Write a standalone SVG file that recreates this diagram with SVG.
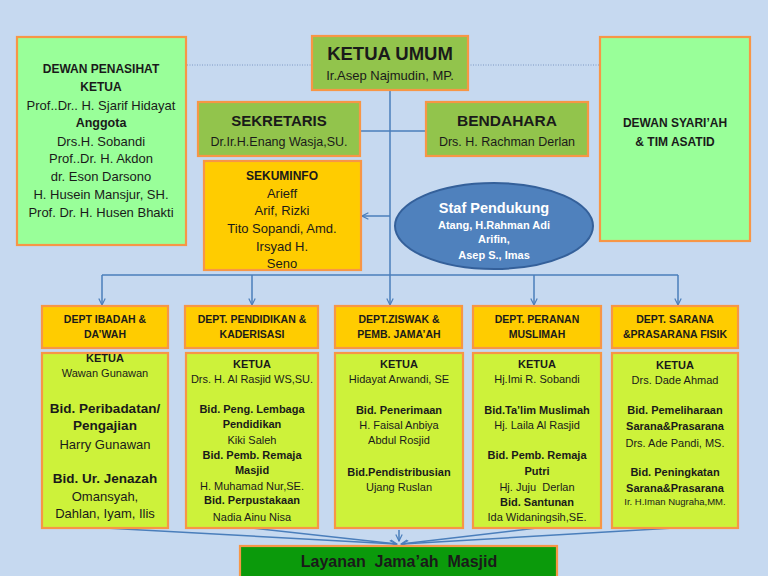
<svg xmlns="http://www.w3.org/2000/svg" width="768" height="576" viewBox="0 0 768 576">
<defs>
<style>
text{font-family:"Liberation Sans",Arial,sans-serif;fill:#1a1a1a;text-anchor:middle}
.b{font-weight:bold}
.box{stroke:#f79646;stroke-width:2.2}
.lg{fill:#99ff99}
.og{fill:#92c44c}
.gold{fill:#ffcc00}
.yg{fill:#cdf23a}
.ln{stroke:#4a7ebb;stroke-width:1.5;fill:none}
.dot{stroke:#7d98c4;stroke-width:1;stroke-dasharray:1 1.5;fill:none}
.w{fill:#ffffff}
</style>
<marker id="ah" viewBox="0 0 10 10" refX="9" refY="5" markerWidth="8" markerHeight="8" orient="auto" markerUnits="userSpaceOnUse">
<path d="M1,1 L9,5 L1,9" fill="none" stroke="#4a7ebb" stroke-width="1.5"/>
</marker>
</defs>
<rect width="768" height="576" fill="#c6d9f0"/>

<g id="connectors">
<path class="dot" d="M187,65 H312 M468,65 H600"/>
<path class="ln" d="M390,90 V275"/>
<path class="ln" d="M360,131 H426"/>
<path class="ln" d="M390,216 H362" marker-end="url(#ah)"/>
<path class="ln" d="M102,275 H678"/>
<path class="ln" d="M102,275 V305" marker-end="url(#ah)"/>
<path class="ln" d="M252,275 V305" marker-end="url(#ah)"/>
<path class="ln" d="M390,275 V305" marker-end="url(#ah)"/>
<path class="ln" d="M534,275 V305" marker-end="url(#ah)"/>
<path class="ln" d="M678,275 V305" marker-end="url(#ah)"/>
<path class="ln" d="M105,528 L396,544" marker-end="url(#ah)"/>
<path class="ln" d="M252,528 L397,544" marker-end="url(#ah)"/>
<path class="ln" d="M399,530 V541" marker-end="url(#ah)"/>
<path class="ln" d="M537,528 L401,544" marker-end="url(#ah)"/>
<path class="ln" d="M674,528 L402,544" marker-end="url(#ah)"/>
</g>

<g id="dewan-penasihat">
<rect class="box lg" x="17" y="37" width="169" height="208"/>
<text class="b" x="101" y="73" font-size="12">DEWAN PENASIHAT</text>
<text class="b" x="101" y="91" font-size="12">KETUA</text>
<text x="101" y="110" font-size="13">Prof..Dr.. H. Sjarif Hidayat</text>
<text class="b" x="101" y="127" font-size="12.5">Anggota</text>
<text x="101" y="146" font-size="13">Drs.H. Sobandi</text>
<text x="101" y="163" font-size="13">Prof..Dr. H. Akdon</text>
<text x="101" y="181" font-size="13">dr. Eson Darsono</text>
<text x="101" y="199" font-size="13">H. Husein Mansjur, SH.</text>
<text x="101" y="217" font-size="13">Prof. Dr. H. Husen Bhakti</text>
</g>

<g id="ketua-umum">
<rect class="box og" x="312" y="36" width="156" height="54"/>
<text class="b" x="390" y="60" font-size="18.5">KETUA UMUM</text>
<text x="390" y="80" font-size="13">Ir.Asep Najmudin, MP.</text>
</g>

<g id="sekretaris">
<rect class="box og" x="198" y="102" width="162" height="54"/>
<text class="b" x="279" y="126" font-size="15">SEKRETARIS</text>
<text x="279" y="146" font-size="12.5">Dr.Ir.H.Enang Wasja,SU.</text>
</g>

<g id="bendahara">
<rect class="box og" x="426" y="102" width="162" height="54"/>
<text class="b" x="507" y="126" font-size="15.5">BENDAHARA</text>
<text x="507" y="146" font-size="12.5">Drs. H. Rachman Derlan</text>
</g>

<g id="dewan-syariah">
<rect class="box lg" x="600" y="37" width="150" height="204"/>
<text class="b" x="675" y="127" font-size="12">DEWAN SYARI’AH</text>
<text class="b" x="675" y="146" font-size="12">&amp; TIM ASATID</text>
</g>

<g id="sekuminfo">
<rect class="box gold" x="204" y="161" width="157" height="109"/>
<text class="b" x="282" y="180" font-size="12">SEKUMINFO</text>
<text x="282" y="198" font-size="13">Arieff</text>
<text x="282" y="215" font-size="13">Arif, Rizki</text>
<text x="282" y="233" font-size="13">Tito Sopandi, Amd.</text>
<text x="282" y="251" font-size="13">Irsyad H.</text>
<text x="282" y="268" font-size="13">Seno</text>
</g>

<g id="staf-pendukung">
<ellipse cx="494" cy="226" rx="99" ry="43" fill="#4f81bd" stroke="#34609a" stroke-width="2"/>
<text class="b w" x="494" y="213" font-size="14.5">Staf Pendukung</text>
<text class="b w" x="494" y="229" font-size="11">Atang, H.Rahman Adi</text>
<text class="b w" x="494" y="243" font-size="11">Arifin,</text>
<text class="b w" x="494" y="259" font-size="11">Asep S., Imas</text>
</g>

<g id="dept-ibadah">
<rect class="box gold" x="42" y="306" width="126" height="42"/>
<text class="b" x="105" y="323" font-size="10.5">DEPT IBADAH &amp;</text>
<text class="b" x="105" y="338" font-size="10.5">DA’WAH</text>
</g>
<g id="dept-pendidikan">
<rect class="box gold" x="185" y="306" width="133" height="42"/>
<text class="b" x="252" y="323" font-size="10.5">DEPT. PENDIDIKAN &amp;</text>
<text class="b" x="252" y="338" font-size="10.5">KADERISASI</text>
</g>
<g id="dept-ziswak">
<rect class="box gold" x="335" y="306" width="127" height="42"/>
<text class="b" x="399" y="323" font-size="10.5">DEPT.ZISWAK &amp;</text>
<text class="b" x="399" y="338" font-size="10.5">PEMB. JAMA’AH</text>
</g>
<g id="dept-peranan">
<rect class="box gold" x="473" y="306" width="128" height="42"/>
<text class="b" x="537" y="323" font-size="10.5">DEPT. PERANAN</text>
<text class="b" x="537" y="338" font-size="10.5">MUSLIMAH</text>
</g>
<g id="dept-sarana">
<rect class="box gold" x="612" y="306" width="126" height="42"/>
<text class="b" x="675" y="323" font-size="10.5">DEPT. SARANA</text>
<text class="b" x="675" y="338" font-size="10.5">&amp;PRASARANA FISIK</text>
</g>

<g id="body-ibadah">
<rect class="box yg" x="42" y="353" width="126" height="175"/>
<text class="b" x="105" y="362" font-size="11">KETUA</text>
<text x="105" y="377" font-size="11">Wawan Gunawan</text>
<text class="b" x="105" y="413" font-size="13.5">Bid. Peribadatan/</text>
<text class="b" x="105" y="430" font-size="13.5">Pengajian</text>
<text x="105" y="449" font-size="13">Harry Gunawan</text>
<text class="b" x="105" y="483" font-size="13.5">Bid. Ur. Jenazah</text>
<text x="105" y="501" font-size="13">Omansyah,</text>
<text x="105" y="518" font-size="13">Dahlan, Iyam, Ilis</text>
</g>
<g id="body-pendidikan">
<rect class="box yg" x="186" y="353" width="132" height="175"/>
<text class="b" x="252" y="368" font-size="11">KETUA</text>
<text x="252" y="383" font-size="11">Drs. H. Al Rasjid WS,SU.</text>
<text class="b" x="252" y="413" font-size="11">Bid. Peng. Lembaga</text>
<text class="b" x="252" y="428" font-size="11">Pendidikan</text>
<text x="252" y="444" font-size="11">Kiki Saleh</text>
<text class="b" x="252" y="459" font-size="11">Bid. Pemb. Remaja</text>
<text class="b" x="252" y="474" font-size="11">Masjid</text>
<text x="252" y="490" font-size="11">H. Muhamad Nur,SE.</text>
<text class="b" x="252" y="504" font-size="11">Bid. Perpustakaan</text>
<text x="252" y="521" font-size="11">Nadia Ainu Nisa</text>
</g>
<g id="body-ziswak">
<rect class="box yg" x="335" y="353" width="128" height="175"/>
<text class="b" x="399" y="368" font-size="11">KETUA</text>
<text x="399" y="383" font-size="11">Hidayat Arwandi, SE</text>
<text class="b" x="399" y="414" font-size="11">Bid. Penerimaan</text>
<text x="399" y="429" font-size="11">H. Faisal Anbiya</text>
<text x="399" y="444" font-size="11">Abdul Rosjid</text>
<text class="b" x="399" y="476" font-size="11">Bid.Pendistribusian</text>
<text x="399" y="491" font-size="11">Ujang Ruslan</text>
</g>
<g id="body-peranan">
<rect class="box yg" x="473" y="353" width="128" height="175"/>
<text class="b" x="537" y="368" font-size="11">KETUA</text>
<text x="537" y="383" font-size="11">Hj.Imi R. Sobandi</text>
<text class="b" x="537" y="414" font-size="11">Bid.Ta’lim Muslimah</text>
<text x="537" y="429" font-size="11">Hj. Laila Al Rasjid</text>
<text class="b" x="537" y="459" font-size="11">Bid. Pemb. Remaja</text>
<text class="b" x="537" y="475" font-size="11">Putri</text>
<text x="537" y="491" font-size="11" style="white-space:pre">Hj. Juju  Derlan</text>
<text class="b" x="537" y="506" font-size="11">Bid. Santunan</text>
<text x="537" y="521" font-size="11">Ida Widaningsih,SE.</text>
</g>
<g id="body-sarana">
<rect class="box yg" x="612" y="353" width="126" height="175"/>
<text class="b" x="675" y="369" font-size="11">KETUA</text>
<text x="675" y="384" font-size="11">Drs. Dade Ahmad</text>
<text class="b" x="675" y="414" font-size="11">Bid. Pemeliharaan</text>
<text class="b" x="675" y="430" font-size="11">Sarana&amp;Prasarana</text>
<text x="675" y="447" font-size="11">Drs. Ade Pandi, MS.</text>
<text class="b" x="675" y="476" font-size="11">Bid. Peningkatan</text>
<text class="b" x="675" y="492" font-size="11">Sarana&amp;Prasarana</text>
<text x="675" y="505" font-size="9.5">Ir. H.Iman Nugraha,MM.</text>
</g>

<g id="layanan">
<rect class="box" fill="#0b9a0b" x="240" y="546" width="317" height="34"/>
<text class="b" x="399" y="567" font-size="16" style="white-space:pre">Layanan  Jama’ah  Masjid</text>
</g>
</svg>
